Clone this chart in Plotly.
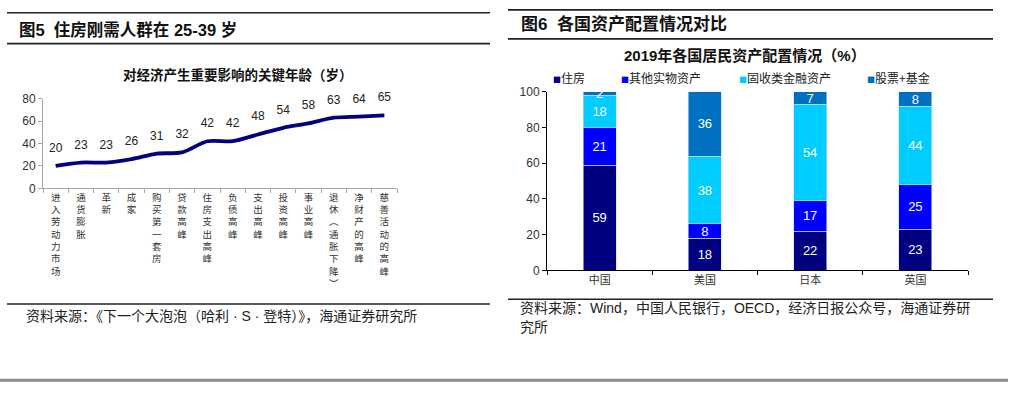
import plotly.graph_objects as go

W, H = 1018, 394

# ---------------- data ----------------
# Figure 5: key ages
age_labels = ["进入劳动力市场", "通货膨胀", "革新", "成家", "购买第一套房", "贷款高峰",
              "住房支出高峰", "负债高峰", "支出高峰", "投资高峰", "事业高峰",
              "退休︵通胀下降︶", "净财产的高峰", "慈善活动的高峰"]
ages = [20, 23, 23, 26, 31, 32, 42, 42, 48, 54, 58, 63, 64, 65]
age_ticks = [0, 20, 40, 60, 80]

# Figure 6: household asset allocation 2019 (%)
countries = ["中国", "美国", "日本", "英国"]
series_names = ["住房", "其他实物资产", "固收类金融资产", "股票+基金"]
housing = [59, 18, 22, 23]
other_real = [21, 8, 17, 25]
fixed_income = [18, 38, 54, 44]
equity_funds = [2, 36, 7, 8]
alloc_ticks = [0, 20, 40, 60, 80, 100]

series_colors = ["#000080", "#0000FF", "#00CCFF", "#0070C0"]

FONT = "Liberation Sans, Noto Sans CJK SC, sans-serif"
CJK = "Noto Sans CJK SC, Liberation Sans, sans-serif"


def px(x):
    return x / W


def py(y):
    return 1 - y / H


fig = go.Figure()

# ---------- left: line chart ----------
age_cats = ["<br>".join(list(s)) for s in age_labels]
fig.add_trace(go.Scatter(
    x=age_cats, y=ages, mode="lines+markers+text",
    text=[str(v) for v in ages], textposition="top center",
    textfont=dict(size=12, color="#222", family=FONT),
    line=dict(color="#000080", width=3.8, shape="spline", smoothing=0.8),
    marker=dict(size=16, color="rgba(0,0,0,0)"),
    cliponaxis=False, showlegend=False, xaxis="x", yaxis="y", hoverinfo="skip"))

# ---------- right: stacked bars ----------
for name, vals, color in zip(series_names, [housing, other_real, fixed_income, equity_funds], series_colors):
    fig.add_trace(go.Bar(
        x=countries, y=vals, name=name,
        marker=dict(color=color, line=dict(color="#C8DCF0", width=0.6)),
        text=[str(v) for v in vals], textposition="inside", insidetextanchor="middle",
        textangle=0, textfont=dict(color="white", size=13, family=FONT),
        xaxis="x2", yaxis="y2", showlegend=False))

legend_px = [555, 623, 741, 869]
legend_keys = ["legend", "legend2", "legend3", "legend4"]
for name, color, key in zip(series_names, series_colors, legend_keys):
    fig.add_trace(go.Scatter(
        x=[None], y=[None], mode="markers",
        marker=dict(size=1, color="rgba(0,0,0,0)"),
        name=f"<span style='font-size:8px;color:{color}'>■</span>{name}",
        legend=key, showlegend=True, xaxis="x2", yaxis="y2"))

layout = dict(
    width=W, height=H,
    margin=dict(l=0, r=0, t=0, b=0),
    paper_bgcolor="white", plot_bgcolor="white",
    font=dict(family=FONT, color="#222"),
    barmode="stack", bargap=0.686,
    uniformtext=dict(minsize=13, mode="show"),
    xaxis=dict(domain=[px(43), px(397)], type="category", tickson="boundaries",
               range=[-0.5, len(age_cats) - 0.5],
               ticks="outside", ticklen=4, tickcolor="#A6A6A6",
               showline=True, linecolor="#A6A6A6", linewidth=1,
               showgrid=False, zeroline=False,
               tickfont=dict(size=9.5, family=CJK, color="#333"), anchor="y"),
    yaxis=dict(domain=[py(188), py(95)], range=[0, 80], tickvals=age_ticks,
               ticks="outside", ticklen=4, tickcolor="#A6A6A6",
               showline=True, linecolor="#A6A6A6", linewidth=1,
               showgrid=False, zeroline=False,
               tickfont=dict(size=12, color="#333"), anchor="x"),
    xaxis2=dict(domain=[px(547), px(968)], type="category", tickson="boundaries",
                range=[-0.5, len(countries) - 0.5],
                ticks="outside", ticklen=4, tickcolor="#000",
                showline=True, linecolor="#000", linewidth=1,
                showgrid=False, zeroline=False,
                tickfont=dict(size=11, family=CJK, color="#333"), anchor="y2"),
    yaxis2=dict(domain=[py(273), py(88)], range=[0, 100], tickvals=alloc_ticks,
                ticks="outside", ticklen=4, tickcolor="#000",
                showline=True, linecolor="#000", linewidth=1,
                showgrid=False, zeroline=False,
                tickfont=dict(size=12, color="#333"), anchor="x2"),
)
for key, xp in zip(legend_keys, legend_px):
    layout[key] = dict(x=px(xp - 42), y=py(74), xanchor="left", yanchor="middle",
                       orientation="h", bgcolor="rgba(0,0,0,0)", borderwidth=0,
                       font=dict(size=12, family=CJK, color="#222"), itemwidth=30)
fig.update_layout(**layout)

# ---------- rules ----------
def hline(x0, x1, y, color="#222", width=1.6):
    fig.add_shape(type="line", xref="paper", yref="paper",
                  x0=px(x0), x1=px(x1), y0=py(y), y1=py(y),
                  line=dict(color=color, width=width))

hline(7, 490, 6)
hline(7, 490, 38)
hline(7, 490, 308)
hline(508, 993, 3)
hline(508, 993, 33)
hline(508, 993, 303)
hline(0, 1008, 387, color="#8C8C8C", width=3)

# ---------- texts ----------
def text(x, y, s, size, bold=False, anchor="left", color="#111", family=FONT):
    fig.add_annotation(xref="paper", yref="paper", x=px(x), y=py(y), text=f"<b>{s}</b>" if bold else s,
                       showarrow=False, xanchor=anchor, yanchor="middle",
                       font=dict(size=size, color=color, family=family))

text(17, 23, "图5  住房刚需人群在 25-39 岁", 16.5, bold=True)
text(519, 18, "图6  各国资产配置情况对比", 17, bold=True)
text(238, 71, "对经济产生重要影响的关键年龄（岁）", 13.5, bold=True, anchor="center")
text(745, 50, "2019年各国居民资产配置情况（%）", 15, bold=True, anchor="center")
text(24, 320, "资料来源：《下一个大泡泡（哈利 · S · 登特）》，海通证券研究所", 14, color="#222")
text(518, 312, "资料来源：Wind，中国人民银行，OECD，经济日报公众号，海通证券研", 14, color="#222")
text(518, 332, "究所", 14, color="#222")

fig.write_html("out.html", config={"displayModeBar": False},
               post_script="document.body.style.margin='0';document.body.style.overflow='hidden';")
